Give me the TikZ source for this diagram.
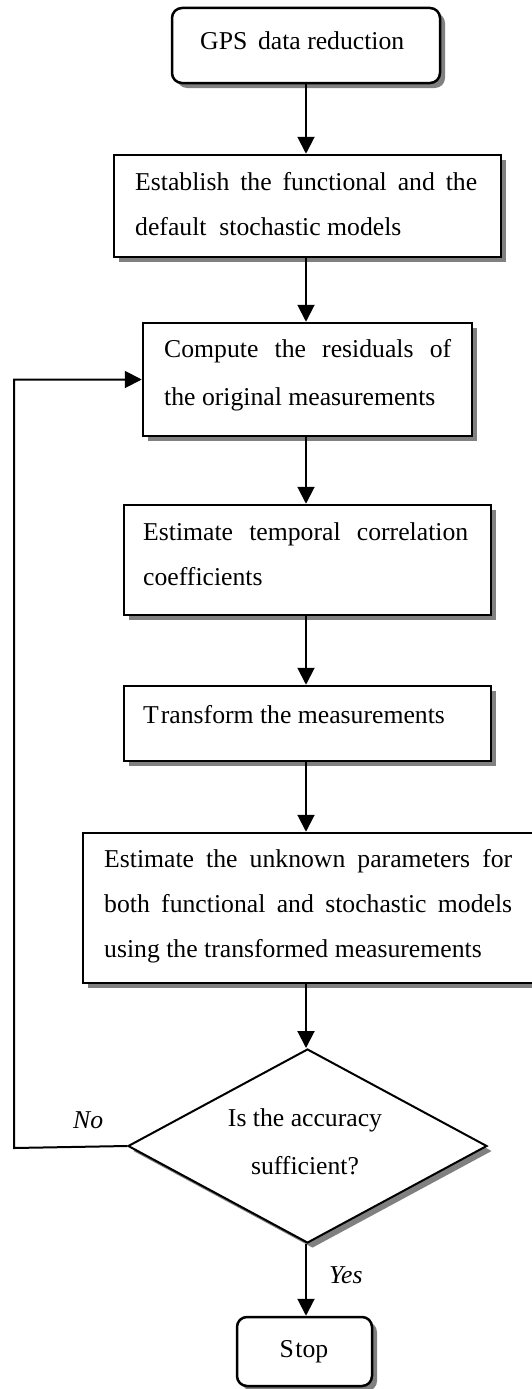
\documentclass[tikz,border=0pt]{standalone}
\usepackage{fontspec}
\setmainfont{Liberation Serif}
\usetikzlibrary{arrows.meta,shapes.geometric,shadows}
\begin{document}
\begin{tikzpicture}[x=1pt,y=-1pt,
  txt/.style={font=\fontsize{25.7}{30}\selectfont, inner sep=0pt, anchor=base west},
  ctxt/.style={txt, anchor=base},
  boxshadow/.style={drop shadow={shadow xshift=5pt,shadow yshift=-5pt,fill=black!50,opacity=1}},
  procbox/.style={draw, line width=2.5pt, fill=white, boxshadow, inner sep=0pt},
  termbox/.style={procbox, rounded corners=10pt},
  decision/.style={diamond, draw, line width=2pt, fill=white, boxshadow, inner sep=0pt},
  flow/.style={line width=2pt, -{Triangle[width=17pt,length=17pt]}},
]
\useasboundingbox[fill=white] (0,0) rectangle (531,1389);

% vertical axis of the main flow and the corner of the feedback loop
\coordinate (axis) at (306,0);
\coordinate (loop) at (14,1148);

% boxes
\node[termbox, minimum width=268pt, minimum height=75pt] (start) at (306,45.5) {};
\node[procbox, minimum width=387pt, minimum height=102pt] (b2) at (307.5,206) {};
\node[procbox, minimum width=329pt, minimum height=113pt] (b3) at (307.5,379.5) {};
\node[procbox, minimum width=367pt, minimum height=110pt] (b4) at (307.5,560) {};
\node[procbox, minimum width=367pt, minimum height=75pt] (b5) at (307.5,723.5) {};
\node[procbox, minimum width=477pt, minimum height=150pt] (b6) at (321.5,908) {};
\node[decision, minimum width=359pt, minimum height=194pt] (dec) at (307.5,1146) {};
\node[termbox, minimum width=135pt, minimum height=69pt] (stop) at (304.5,1351.5) {};

% texts
\node[txt] (t1) at (200,49) {GPS\, data reduction};
\node[txt] (t2a) at (135,190) {\makebox[342pt][s]{Establish the functional and the}};
\node[txt] (t2b) at (135,235) {default\ \ stochastic models};
\node[txt] (t3a) at (164,357) {\makebox[287pt][s]{Compute the residuals of}};
\node[txt] (t3b) at (164,405) {the original measurements};
\node[txt] (t4a) at (143,540) {\makebox[325pt][s]{Estimate temporal correlation}};
\node[txt] (t4b) at (143,585) {coefficients};
\node[txt] (t5) at (143,723) {T\kern2pt ransform the measurements};
\node[txt] (t6a) at (104,867) {\makebox[408pt][s]{Estimate the unknown parameters for}};
\node[txt] (t6b) at (104,912) {\makebox[408pt][s]{both functional and stochastic models}};
\node[txt] (t6c) at (104,957) {using the transformed measurements};
\node[ctxt] (t7a) at (305,1126) {Is the accuracy};
\node[ctxt] (t7b) at (305,1174) {sufficient?};
\node[ctxt] (t8) at (304,1357) {S\kern1.5pt top};
\node[txt, font=\fontsize{25.7}{30}\selectfont\itshape] (no) at (73,1128) {No};
\node[txt, font=\fontsize{25.7}{30}\selectfont\itshape] (yes) at (329,1283) {Yes};

% connectors
\draw[flow] (start.south -| axis) -- (b2.north -| axis);
\draw[flow] (b2.south -| axis) -- (b3.north -| axis);
\draw[flow] (b3.south -| axis) -- (b4.north -| axis);
\draw[flow] (b4.south -| axis) -- (b5.north -| axis);
\draw[flow] (b5.south -| axis) -- (b6.north -| axis);
\draw[flow] (b6.south -| axis) -- (dec.north -| axis);
\draw[flow] (dec.south -| axis) -- (stop.north -| axis);
\draw[flow] (dec.west) -- (loop) |- (b3.west);
\end{tikzpicture}
\end{document}
